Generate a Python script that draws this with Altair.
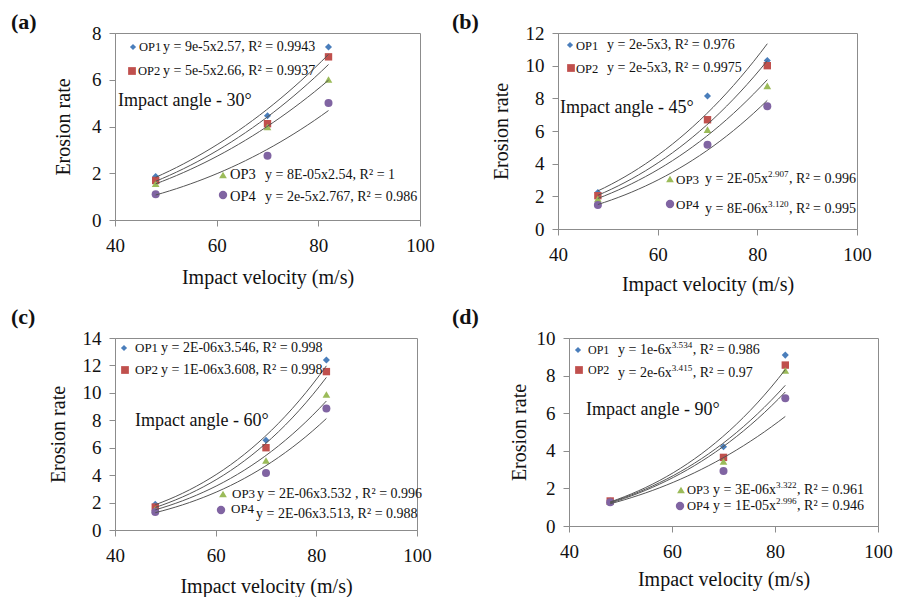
import altair as alt
import pandas as pd

FONT = "Liberation Serif, Times New Roman, serif"

# ---------------- data ----------------
velocity = [48, 70, 82]
series = ["OP1", "OP2", "OP3", "OP4"]
colors = ["#4A7EBB", "#C0504D", "#9BBB59", "#8064A2"]
shapes = ["diamond", "square", "triangle-up", "circle"]

rate_30 = {"OP1": [1.86, 4.46, 7.40], "OP2": [1.69, 4.12, 6.98],
           "OP3": [1.55, 3.98, 6.01], "OP4": [1.10, 2.75, 5.01]}
rate_45 = {"OP1": [2.24, 8.14, 10.31], "OP2": [2.04, 6.69, 10.00],
           "OP3": [1.84, 6.08, 8.76], "OP4": [1.47, 5.16, 7.51]}
rate_60 = {"OP1": [1.87, 6.55, 12.40], "OP2": [1.67, 6.00, 11.55],
           "OP3": [1.50, 5.07, 9.88], "OP4": [1.31, 4.15, 8.86]}
rate_90 = {"OP1": [1.33, 4.22, 9.09], "OP2": [1.33, 3.65, 8.56],
           "OP3": [1.30, 3.43, 8.27], "OP4": [1.26, 2.92, 6.80]}

# equation labels: (base, superscript, rest)
eq_30 = [("y = 9e-5x2.57, R² = 0.9943", "", ""), ("y = 5e-5x2.66, R² = 0.9937", "", ""),
         ("y = 8E-05x2.54, R² = 1", "", ""), ("y = 2e-5x2.767, R² = 0.986", "", "")]
eq_45 = [("y = 2e-5x3, R² = 0.976", "", ""), ("y = 2e-5x3,  R² = 0.9975", "", ""),
         ("y = 2E-05x", "2.907", ", R² = 0.996"), ("y = 8E-06x", "3.120", ", R² = 0.995")]
eq_60 = [("y = 2E-06x3.546, R² = 0.998", "", ""), ("y = 1E-06x3.608, R² = 0.998", "", ""),
         ("y = 2E-06x3.532 , R² = 0.996", "", ""), ("y = 2E-06x3.513, R² = 0.988", "", "")]
eq_90 = [("y = 1e-6x", "3.534", ", R² = 0.986"), ("y = 2e-6x", "3.415", ", R² = 0.97"),
         ("y = 3E-06x", "3.322", ", R² = 0.961"), ("y = 1E-05x", "2.996", ", R² = 0.946")]

# ---------------- layout (pixels inside each plot area) ----------------
# per entry: glyph x, glyph y, label x, label y, eq x, eq y
layout_30 = [(18, 14, 24, 14, 48, 14), (17, 38, 23, 38, 48, 38),
             (108, 142, 115, 142, 150, 142), (108, 162, 115, 164, 150, 164)]
layout_45 = [(12, 12, 18, 13, 49, 12), (13, 35, 18, 36, 49, 35),
             (112, 146, 118, 147, 147, 146), (112, 171, 118, 172, 147, 176)]
layout_60 = [(9, 10, 20, 10, 46, 10), (10, 32, 20, 32, 46, 32),
             (108, 156, 117, 156, 142, 156), (106, 172, 116, 171, 141, 176)]
layout_90 = [(9, 12, 19, 12, 49, 12), (10, 32, 19, 32, 49, 35),
             (112, 152, 118, 152, 144, 152), (111, 168, 118, 168, 144, 168)]

# Times-metric advance widths (per 1000 em) used to chain text pieces
ADV = {" ": 250, "y": 500, "=": 564, "e": 444, "-": 333, "x": 500, "E": 611,
       ".": 250, ",": 250, "R": 667, "²": 300}


def text_w(s, size):
    return sum(ADV.get(ch, 500) for ch in s) * size / 1000.0


def txt(t, x, y, size, color="#111"):
    return alt.Chart(pd.DataFrame({"t": [t]})).mark_text(
        font=FONT, fontSize=size, align="left", baseline="middle", color=color
    ).encode(text="t:N", x=alt.value(x), y=alt.value(y))


def panel(label, angle, rates, ymax, eqs, lay, w, h, angle_pos,
          op_size, eq_size, dx_title, dy_title, ytitle_pad, xtitle_pad):
    df = pd.DataFrame([{"series": s, "vel": v, "rate": r}
                       for s in series for v, r in zip(velocity, rates[s])])
    x = alt.X("vel:Q", scale=alt.Scale(domain=[40, 100], nice=False),
              axis=alt.Axis(values=[40, 60, 80, 100], title="Impact velocity (m/s)",
                            labelFlush=False, labelPadding=10, titlePadding=xtitle_pad))
    y = alt.Y("rate:Q", scale=alt.Scale(domain=[0, ymax], nice=False),
              axis=alt.Axis(values=list(range(0, ymax + 1, 2)), title="Erosion rate",
                            titlePadding=ytitle_pad, labelFlush=False))
    base = alt.Chart(df)
    pts = base.mark_point(filled=True, opacity=1).encode(
        x=x, y=y,
        shape=alt.Shape("series:N", scale=alt.Scale(domain=series, range=shapes), legend=None),
        color=alt.Color("series:N", scale=alt.Scale(domain=series, range=colors), legend=None),
        size=alt.Size("series:N", scale=alt.Scale(domain=series, range=[50, 64, 70, 72]), legend=None),
    )
    lines = base.transform_regression(
        "vel", "rate", method="pow", groupby=["series"]
    ).mark_line(color="#555555", strokeWidth=1).encode(x=x, y=y, detail="series:N")

    layers = [pts, lines]
    gsizes = [38, 60, 60, 70]
    for i, s in enumerate(series):
        gx, gy, lx, ly, ex, ey = lay[i]
        layers.append(
            alt.Chart(pd.DataFrame({"t": [s]})).mark_point(
                filled=True, opacity=1, shape=shapes[i], color=colors[i], size=gsizes[i]
            ).encode(x=alt.value(gx), y=alt.value(gy))
        )
        layers.append(txt(s, lx, ly, op_size[i // 2]))
        b, sup, rest = eqs[i]
        layers.append(txt(b, ex, ey, eq_size))
        if sup:
            sx = ex + text_w(b, eq_size)
            sup_size = eq_size * 0.65
            layers.append(txt(sup, sx, ey - 5, sup_size))
            layers.append(txt(rest, sx + text_w(sup, sup_size) + 0.5, ey, eq_size))
    layers.append(txt(f"Impact angle - {angle}°", angle_pos[0], angle_pos[1], 18))
    return alt.layer(*layers).properties(
        width=w, height=h,
        title=alt.TitleParams(text=label, anchor="start", frame="group", orient="top",
                              dx=dx_title, dy=dy_title, offset=0, fontSize=22,
                              fontWeight="bold", font=FONT, color="#111"),
    )


pa = panel("(a)", 30, rate_30, 8, eq_30, layout_30, 305, 187, (3, 68),
           [12.5, 14.5], 14, -104, 10, 18, 12)
pb = panel("(b)", 45, rate_45, 12, eq_45, layout_45, 299, 196, (2, 75),
           [12.5, 13], 14, -106, 10, 14, 10)
pc = panel("(c)", 60, rate_60, 14, eq_60, layout_60, 302, 192, (20, 83),
           [13, 13], 14, -104, 0, 14, 11)
pd_ = panel("(d)", 90, rate_90, 10, eq_90, layout_90, 309, 188, (17, 72),
            [12, 12.5], 14, -117, 0, 7, 8)

chart = alt.vconcat(
    alt.hconcat(pa, pb, spacing=16),
    alt.hconcat(pc, pd_, spacing=19),
    spacing=10,
).properties(padding={"left": 2, "top": 2, "right": 0, "bottom": 0}).configure_view(
    stroke="#8c8c8c", strokeWidth=1
).configure_axis(
    grid=False, domainColor="#8c8c8c", tickColor="#8c8c8c", tickSize=6,
    labelFont=FONT, labelFontSize=19, labelColor="#111", labelPadding=8,
    titleFont=FONT, titleFontSize=20, titleFontWeight="normal", titleColor="#111",
    titlePadding=10,
)

chart.save("out.html", embed_options={"renderer": "svg", "actions": False})
